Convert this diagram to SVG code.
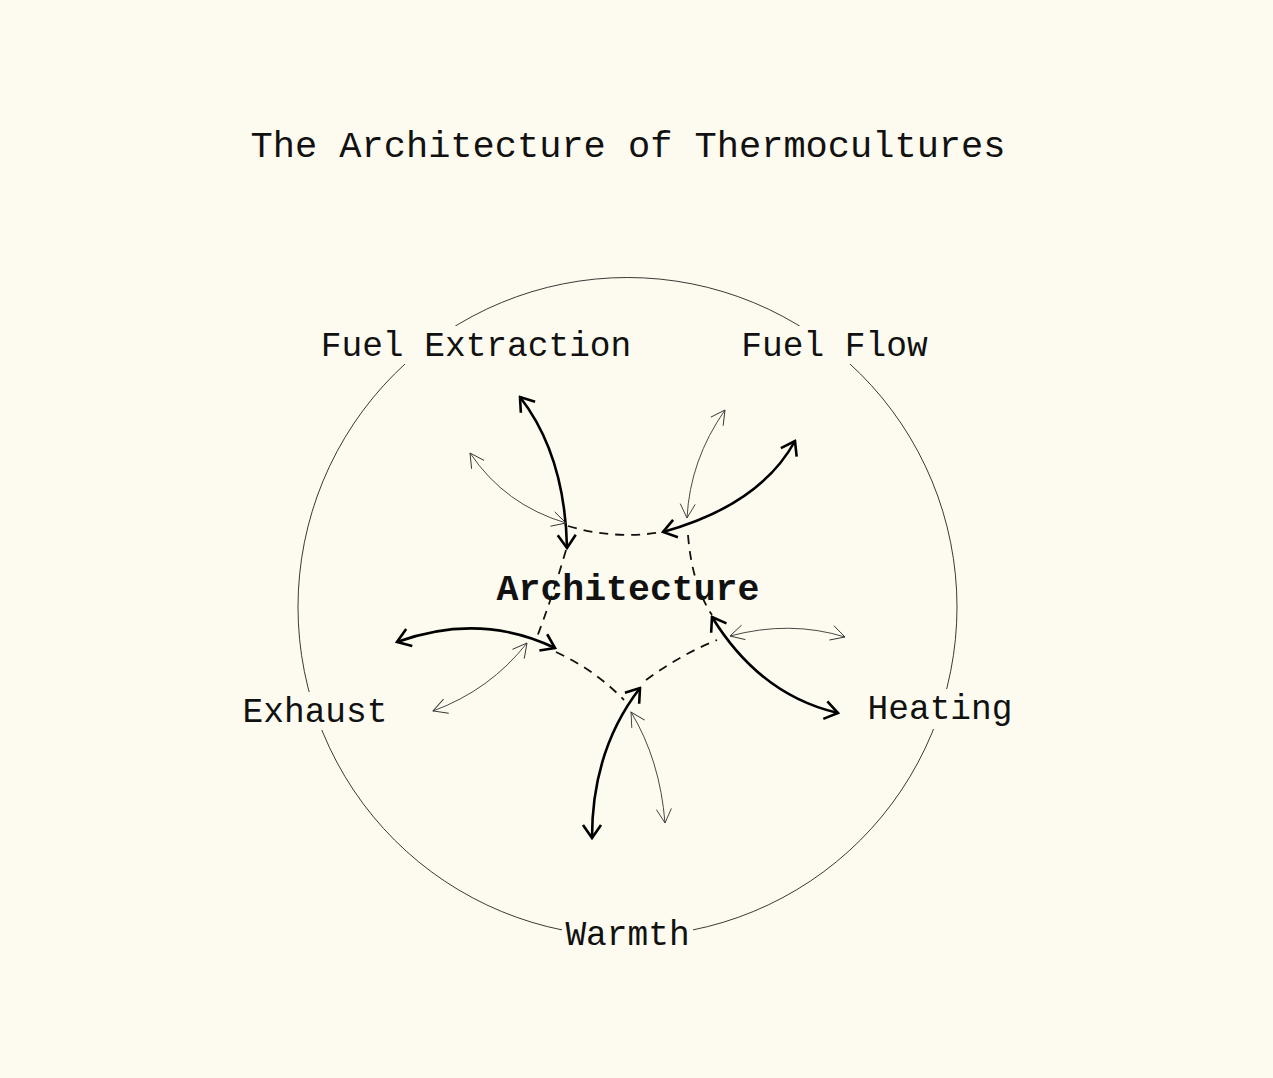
<svg xmlns="http://www.w3.org/2000/svg" width="1273" height="1078" viewBox="0 0 1273 1078">
<defs>
<style>
.lbl{font-family:"Liberation Mono","DejaVu Sans Mono",monospace;font-size:34.5px;fill:#111;text-anchor:middle}
.title{font-family:"Liberation Mono","DejaVu Sans Mono",monospace;font-size:37px;fill:#111;text-anchor:middle}
.core{font-family:"Liberation Mono","DejaVu Sans Mono",monospace;font-size:36.5px;font-weight:bold;fill:#111;text-anchor:middle}
.bg{fill:#fdfbef}
.thick{fill:none;stroke:#000;stroke-width:2.6;marker-start:url(#hk);marker-end:url(#hk)}
.thin{fill:none;stroke:#333;stroke-width:0.9;marker-start:url(#hn);marker-end:url(#hn)}
.dash{fill:none;stroke:#111;stroke-width:1.8;stroke-dasharray:9 7}
</style>
<marker id="hk" viewBox="-16 -11 18 22" markerWidth="18" markerHeight="22" refX="0" refY="0" orient="auto-start-reverse" markerUnits="userSpaceOnUse">
<path d="M-13,-9 L0,0 L-13,9" fill="none" stroke="#000" stroke-width="2.6"/>
</marker>
<marker id="hn" viewBox="-16 -10 18 20" markerWidth="18" markerHeight="20" refX="0" refY="0" orient="auto-start-reverse" markerUnits="userSpaceOnUse">
<path d="M-14,-7.5 L0,0 L-14,7.5" fill="none" stroke="#333" stroke-width="0.9"/>
</marker>
</defs>
<rect width="1273" height="1078" fill="#fdfbef"/>
<circle cx="627.5" cy="607" r="329.5" fill="none" stroke="#222" stroke-width="0.9"/>
<text class="title" x="628" y="157">The Architecture of Thermocultures</text>
<g id="connectors">
<path class="dash" d="M568,526 Q615,540 662,532"/>
<path class="dash" d="M688,535 Q692,585 712,615"/>
<path class="dash" d="M566,550 Q552,598 537,637"/>
<path class="dash" d="M556,652 Q595,670 624,700"/>
<path class="dash" d="M646,680 Q680,655 717,640"/>
<path class="thick" d="M567,548 Q565,455 520,397"/>
<path class="thick" d="M663,532 Q760,505 795,441"/>
<path class="thick" d="M555,648 Q480,612 397,642"/>
<path class="thick" d="M712,617 Q760,695 838,713"/>
<path class="thick" d="M640,688 Q592,750 592,838"/>
<path class="thin" d="M470,453 Q505,505 566,523"/>
<path class="thin" d="M725,410 Q690,460 687,518"/>
<path class="thin" d="M527,643 Q490,690 433,711"/>
<path class="thin" d="M730,636 Q790,620 845,637"/>
<path class="thin" d="M631,712 Q660,760 665,823"/>
</g>
<g id="node-architecture"><text class="core" x="628" y="600">Architecture</text></g>
<g id="node-fuel-extraction"><rect class="bg" x="316" y="326" width="320" height="38"/><text class="lbl" x="476" y="356">Fuel Extraction</text></g>
<g id="node-fuel-flow"><rect class="bg" x="737" y="326" width="195" height="38"/><text class="lbl" x="834.5" y="356">Fuel Flow</text></g>
<g id="node-exhaust"><rect class="bg" x="239" y="692" width="152" height="38"/><text class="lbl" x="315" y="722">Exhaust</text></g>
<g id="node-heating"><rect class="bg" x="863" y="689" width="154" height="40"/><text class="lbl" x="940" y="719">Heating</text></g>
<g id="node-warmth"><rect class="bg" x="562" y="915" width="131" height="40"/><text class="lbl" x="627.5" y="945">Warmth</text></g>
</svg>
